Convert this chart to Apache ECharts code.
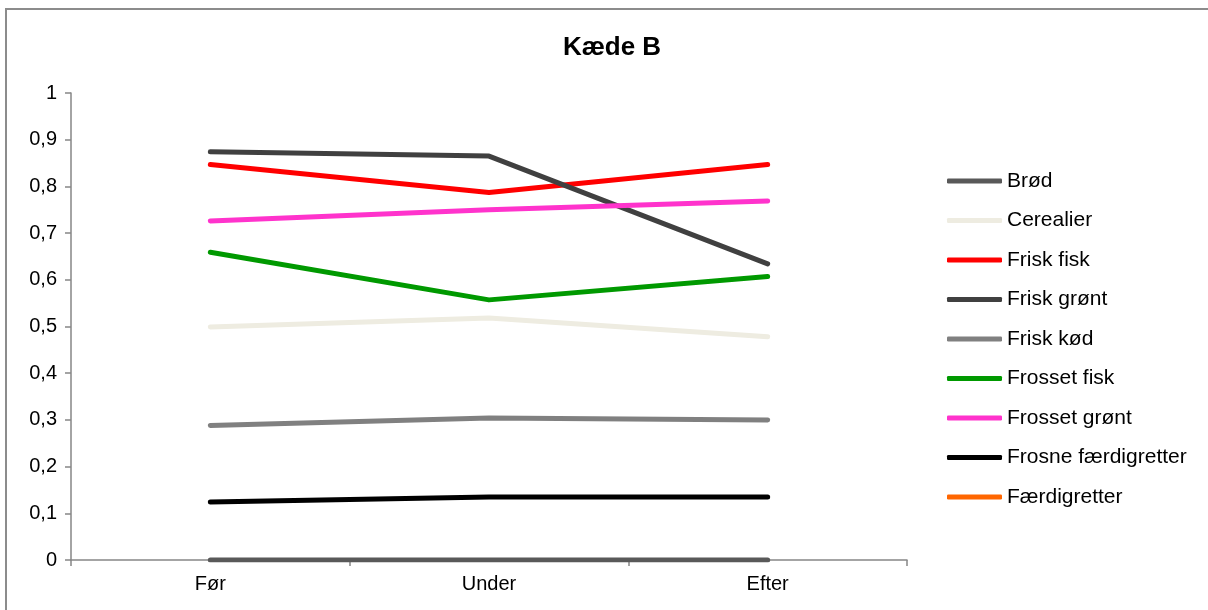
<!DOCTYPE html>
<html>
<head>
<meta charset="utf-8">
<title>Kæde B</title>
<script src="https://cdn.jsdelivr.net/npm/echarts@6/dist/echarts.min.js"></script>
<style>
  html, body { margin: 0; padding: 0; background: #ffffff; }
  #chart { width: 1208px; height: 610px; }
</style>
</head>
<body>
<div id="chart"></div>
<script>
// Periods on the category axis
const periods = ['Før', 'Under', 'Efter'];

// Share per product group, one array per series
const brod = [0, 0, 0];
const cerealier = [0.499, 0.518, 0.478];
const friskFisk = [0.847, 0.787, 0.847];
const friskGront = [0.874, 0.865, 0.634];
const friskKod = [0.288, 0.304, 0.300];
const frossetFisk = [0.659, 0.557, 0.607];
const frossetGront = [0.726, 0.750, 0.769];
const frosneFaerdigretter = [0.124, 0.135, 0.135];
const faerdigretter = [null, null, null];

// Y-axis tick values
const yTicks = [0, 0.1, 0.2, 0.3, 0.4, 0.5, 0.6, 0.7, 0.8, 0.9, 1];

const seriesDefs = [
  { name: 'Brød', data: brod, color: '#595959' },
  { name: 'Cerealier', data: cerealier, color: '#EEECE1' },
  { name: 'Frisk fisk', data: friskFisk, color: '#FF0000' },
  { name: 'Frisk grønt', data: friskGront, color: '#404040' },
  { name: 'Frisk kød', data: friskKod, color: '#808080' },
  { name: 'Frosset fisk', data: frossetFisk, color: '#009900' },
  { name: 'Frosset grønt', data: frossetGront, color: '#FF33CC' },
  { name: 'Frosne færdigretter', data: frosneFaerdigretter, color: '#000000' },
  { name: 'Færdigretter', data: faerdigretter, color: '#FF6600' }
];

const font = '"Liberation Sans", Arial, sans-serif';
const chart = echarts.init(document.getElementById('chart'), null, { renderer: 'canvas' });

chart.setOption({
  animation: false,
  backgroundColor: '#ffffff',
  textStyle: { fontFamily: font, color: '#000000' },
  graphic: [{
    type: 'rect',
    shape: { x: 6, y: 9, width: 1220, height: 620 },
    style: { fill: null, stroke: '#8c8c8c', lineWidth: 2 },
    silent: true,
    z: -1
  }],
  title: {
    text: 'Kæde B',
    left: 607,
    textAlign: 'center',
    top: 30,
    textStyle: { fontFamily: font, fontSize: 26, fontWeight: 'bold', color: '#000000' }
  },
  legend: {
    orient: 'vertical',
    left: 947,
    top: 170.5,
    padding: 0,
    itemWidth: 55,
    itemHeight: 5,
    itemGap: 18.5,
    icon: 'roundRect',
    data: seriesDefs.map(s => s.name),
    textStyle: { fontFamily: font, fontSize: 21, color: '#000000', lineHeight: 21 }
  },
  grid: { left: 71, right: 301, top: 93, bottom: 50, containLabel: false },
  xAxis: {
    type: 'category',
    data: periods,
    boundaryGap: true,
    axisLine: { lineStyle: { color: '#868686', width: 1.5 } },
    axisTick: { show: true, length: 6, lineStyle: { color: '#868686', width: 1.5 } },
    axisLabel: { fontFamily: font, fontSize: 20, color: '#000000', margin: 14 },
    splitLine: { show: false }
  },
  yAxis: {
    type: 'value',
    min: 0,
    max: 1,
    interval: 0.1,
    axisLine: { show: true, lineStyle: { color: '#868686', width: 1.5 } },
    axisTick: { show: true, length: 6, lineStyle: { color: '#868686', width: 1.5 } },
    axisLabel: {
      fontFamily: font, fontSize: 20, color: '#000000', margin: 14,
      customValues: yTicks,
      formatter: v => String(Math.round(v * 10) / 10).replace('.', ',')
    },
    splitLine: { show: false }
  },
  series: seriesDefs.map(s => ({
    name: s.name,
    type: 'line',
    data: s.data,
    color: s.color,
    symbol: 'none',
    showSymbol: false,
    lineStyle: { color: s.color, width: 5, cap: 'round', join: 'round' },
    itemStyle: { color: s.color }
  }))
});
</script>
</body>
</html>
